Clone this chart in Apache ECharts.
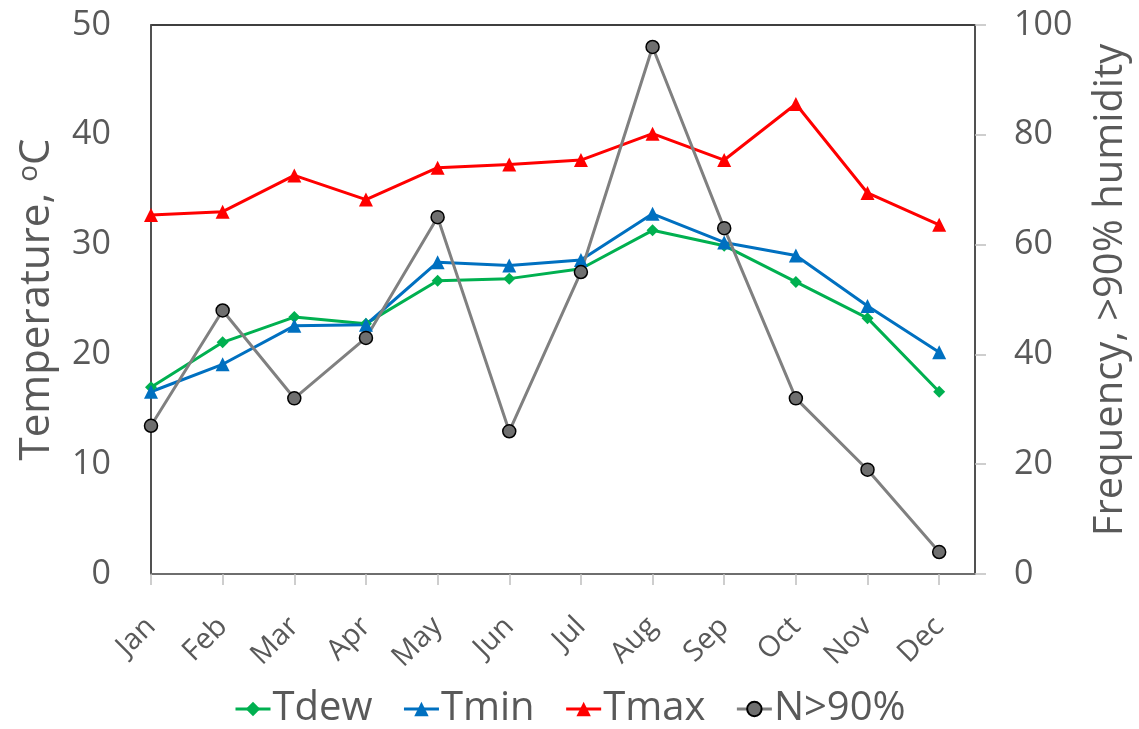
<!DOCTYPE html>
<html>
<head>
<meta charset="utf-8">
<script src="https://cdn.jsdelivr.net/npm/echarts@6/dist/echarts.min.js"></script>
<style>
  html, body { margin: 0; padding: 0; background: #fff; }
  #chart { width: 1139px; height: 729px; }
</style>
</head>
<body>
<div id="chart"></div>
<script>
const months = ['Jan','Feb','Mar','Apr','May','Jun','Jul','Aug','Sep','Oct','Nov','Dec'];
const tdew = [17.0, 21.1, 23.4, 22.8, 26.7, 26.9, 27.8, 31.3, 29.9, 26.6, 23.3, 16.6];
const tmin = [16.6, 19.1, 22.6, 22.7, 28.4, 28.1, 28.6, 32.8, 30.2, 29.0, 24.4, 20.2];
const tmax = [32.7, 33.0, 36.3, 34.1, 37.0, 37.3, 37.7, 40.1, 37.7, 42.8, 34.7, 31.8];
const nHum = [27, 48, 32, 43, 65, 26, 55, 96, 63, 32, 19, 4];
const leftTicks = [0, 10, 20, 30, 40, 50];
const rightTicks = [0, 20, 40, 60, 80, 100];

const idx = months.map((m, i) => i);
const pairs = arr => arr.map((v, i) => [i, v]);
const FONT = '"Open Sans", "Noto Sans", sans-serif';
const TXT = '#595959';

const chart = echarts.init(document.getElementById('chart'), null, { renderer: 'canvas' });
chart.setOption({
  animation: false,
  backgroundColor: '#fff',
  textStyle: { fontFamily: FONT },
  grid: {
    left: 151, right: 164, top: 25, bottom: 155,
    containLabel: false, outerBoundsMode: 'none',
    show: true, borderColor: '#000', borderWidth: 1.5, backgroundColor: 'transparent'
  },
  legend: {
    left: 229, top: 684,
    itemWidth: 35, itemHeight: 18, itemGap: 30,
    lineStyle: { width: 3 },
    textStyle: { fontSize: 40, color: TXT, fontFamily: FONT, padding: [0, 0, 0, -3] },
    data: ['Tdew', 'Tmin', 'Tmax', 'N>90%']
  },
  xAxis: {
    type: 'value', min: 0, max: 11.5, interval: 1,
    axisLine: { show: true, lineStyle: { color: '#7f7f7f', width: 1.5 } },
    axisTick: { show: true, customValues: idx, length: 11, lineStyle: { color: '#bfbfbf', width: 1.5 } },
    axisLabel: {
      customValues: idx, rotate: 45, margin: 48,
      fontSize: 29, color: TXT, fontFamily: FONT,
      formatter: v => months[Math.round(v)] || ''
    },
    splitLine: { show: false }
  },
  yAxis: [
    {
      type: 'value', min: leftTicks[0], max: leftTicks[leftTicks.length - 1], interval: 10,
      position: 'left',
      axisLine: { show: true, lineStyle: { color: '#595959', width: 1.5 } },
      axisTick: { show: false },
      axisLabel: { fontSize: 34, color: TXT, margin: 40, fontFamily: FONT },
      splitLine: { show: false },
      name: 'Temperature, {sup|o}C',
      nameLocation: 'middle', nameRotate: 90, nameGap: 92,
      nameTextStyle: {
        fontSize: 42, color: TXT, fontFamily: FONT,
        rich: { sup: { fontSize: 28, color: TXT, fontFamily: FONT, verticalAlign: 'bottom', padding: [0, 0, 16, 0] } }
      }
    },
    {
      type: 'value', min: rightTicks[0], max: rightTicks[rightTicks.length - 1], interval: 20,
      position: 'right',
      axisLine: { show: true, lineStyle: { color: '#595959', width: 1.5 } },
      axisTick: { show: true, length: 11, lineStyle: { color: '#bfbfbf', width: 1.5 } },
      axisLabel: { fontSize: 34, color: TXT, margin: 39, fontFamily: FONT },
      splitLine: { show: false },
      name: 'Frequency, >90% humidity',
      nameLocation: 'middle', nameRotate: 90, nameGap: 116,
      nameTextStyle: { fontSize: 40, color: TXT, fontFamily: FONT, padding: [0, 0, 0, 19] }
    }
  ],
  series: [
    {
      name: 'Tdew', type: 'line', yAxisIndex: 0, data: pairs(tdew),
      symbol: 'diamond', symbolSize: 12,
      lineStyle: { color: '#00B050', width: 3 },
      itemStyle: { color: '#00B050' }
    },
    {
      name: 'Tmin', type: 'line', yAxisIndex: 0, data: pairs(tmin),
      symbol: 'triangle', symbolSize: 14,
      lineStyle: { color: '#0070C0', width: 3 },
      itemStyle: { color: '#0070C0' }
    },
    {
      name: 'Tmax', type: 'line', yAxisIndex: 0, data: pairs(tmax),
      symbol: 'triangle', symbolSize: 14,
      lineStyle: { color: '#FF0000', width: 3 },
      itemStyle: { color: '#FF0000' }
    },
    {
      name: 'N>90%', type: 'line', yAxisIndex: 1, data: pairs(nHum),
      symbol: 'circle', symbolSize: 13,
      lineStyle: { color: '#808080', width: 3 },
      itemStyle: { color: '#6f6f6f', borderColor: '#000', borderWidth: 1.5 }
    }
  ]
});
</script>
</body>
</html>
